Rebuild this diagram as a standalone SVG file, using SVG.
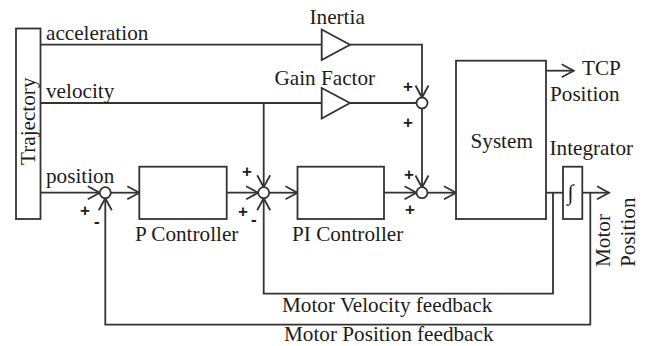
<svg xmlns="http://www.w3.org/2000/svg" width="646" height="346" viewBox="0 0 646 346">
<style>
text{font-family:"Liberation Serif","Times New Roman",serif;font-size:21.2px;fill:#1c1c1c}
.b{fill:#fff;stroke:#333;stroke-width:1.8}
.c{fill:none;stroke:#333;stroke-width:1.8}
.a{fill:none;stroke:#333;stroke-width:1.8}
.s{font-family:"Liberation Sans",Arial,sans-serif;font-size:17px;font-weight:bold}
</style>
<defs>
<marker id="arr" markerUnits="userSpaceOnUse" markerWidth="16" markerHeight="16" refX="13" refY="8" orient="auto" viewBox="0 0 16 16"><path d="M1 1.500L13 8L1 14.500" class="a"/></marker>
</defs>
<rect width="646" height="346" fill="#fff"/>
<g id="connectors">
<path class="c" d="M40.500 44.700H321.700"/>
<path class="c" d="M350 44.700H422V97.500" marker-end="url(#arr)"/>
<path class="c" d="M40.500 103H321.700"/>
<path class="c" d="M350 103H416.500"/>
<path class="c" d="M263.700 103V187.200" marker-end="url(#arr)"/>
<path class="c" d="M422 108.500V187.500" marker-end="url(#arr)"/>
<path class="c" d="M40.500 192.700H99.800" marker-end="url(#arr)"/>
<path class="c" d="M110.800 192.700H139.300" marker-end="url(#arr)"/>
<path class="c" d="M226.700 192.700H258.200" marker-end="url(#arr)"/>
<path class="c" d="M269.200 192.700H297.500" marker-end="url(#arr)"/>
<path class="c" d="M384 192.700H416.500" marker-end="url(#arr)"/>
<path class="c" d="M427.500 192.700H456" marker-end="url(#arr)"/>
<path class="c" d="M546 70.700H573.700" marker-end="url(#arr)"/>
<path class="c" d="M546 192.700H563"/>
<path class="c" d="M582.300 192.700H609" marker-end="url(#arr)"/>
<path class="c" d="M553 192.700V293.700H263.700V198.200" marker-end="url(#arr)"/>
<path class="c" d="M590.300 192.700V324.700H105.300V198.200" marker-end="url(#arr)"/>
</g>
<g id="trajectory"><rect class="b" x="16" y="28.500" width="24.500" height="190.500"/><text transform="translate(34.500,165) rotate(-90)">Trajectory</text></g>
<g id="inertia"><path class="b" d="M321.700 29.500L350 44.700L321.700 60Z"/><text x="309.500" y="24">Inertia</text></g>
<g id="gain-factor"><path class="b" d="M321.700 88L350 103L321.700 118.500Z"/><text x="274.500" y="85">Gain Factor</text></g>
<g id="sum-top"><circle class="b" cx="422" cy="103" r="5.500"/></g>
<g id="sum-position"><circle class="b" cx="105.300" cy="192.700" r="5.500"/></g>
<g id="sum-velocity"><circle class="b" cx="263.700" cy="192.700" r="5.500"/></g>
<g id="sum-force"><circle class="b" cx="422" cy="192.700" r="5.500"/></g>
<g id="p-controller"><rect class="b" x="139.300" y="166.700" width="87.400" height="52.300"/><text x="135" y="240.500">P Controller</text></g>
<g id="pi-controller"><rect class="b" x="297.500" y="166.700" width="86.500" height="52.300"/><text x="292" y="240.500">PI Controller</text></g>
<g id="system"><rect class="b" x="456" y="60.700" width="90" height="158.300"/><text x="470.500" y="148">System</text></g>
<g id="integrator"><rect class="b" x="563" y="166.700" width="19.300" height="52.300"/><text x="567.500" y="200" style="font-size:22px">∫</text><text x="549.500" y="155">Integrator</text></g>
<g id="labels">
<text x="46" y="40">acceleration</text>
<text x="46" y="98">velocity</text>
<text x="46" y="183">position</text>
<text x="582" y="74.500">TCP</text>
<text x="550" y="100.700">Position</text>
<text transform="translate(609.500,267) rotate(-90)">Motor</text>
<text transform="translate(634.500,267) rotate(-90)">Position</text>
<text x="282" y="311.700">Motor Velocity feedback</text>
<text x="284" y="341.300">Motor Position feedback</text>
<text class="s" x="403" y="92">+</text><text class="s" x="403" y="128">+</text>
<text class="s" x="242" y="176.500">+</text><text class="s" x="238" y="217">+</text><text class="s" x="251" y="225">-</text>
<text class="s" x="80" y="216">+</text><text class="s" x="94" y="227">-</text>
<text class="s" x="404" y="180">+</text><text class="s" x="405" y="215">+</text>
</g>
</svg>
